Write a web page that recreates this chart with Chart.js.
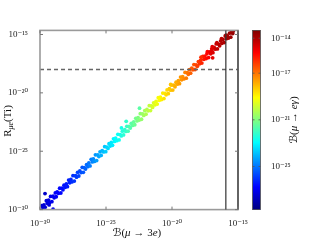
<!DOCTYPE html>
<html><head><meta charset="utf-8">
<script src="https://cdn.jsdelivr.net/npm/chart.js@4/dist/chart.umd.min.js"></script>
<style>html,body{margin:0;padding:0;background:#fff;overflow:hidden}#wrap{width:320px;height:240px;background:#fff}</style>
</head><body><div id="wrap"><canvas id="c" width="320" height="240"></canvas></div>
<script>
// ---- data (log10 exponents) ----
const b3eExp = [
-29.86,-29.70,-29.52,-29.35,-29.20,-29.01,-28.84,-28.70,-28.51,-28.33,-28.18,-28.00,-27.83,-27.66,-27.50,-27.31,-27.15,-26.98,-26.80,-26.64,
-26.47,-26.30,-26.12,-25.96,-25.80,-25.62,-25.45,-25.29,-25.10,-24.94,-24.77,-24.60,-24.43,-24.27,-24.10,-23.92,-23.76,-23.58,-23.42,-23.25,
-23.08,-22.90,-22.74,-22.57,-22.40,-22.23,-22.06,-21.90,-21.72,-21.55,-21.39,-21.21,-21.04,-20.88,-20.70,-20.53,-20.37,-20.20,-20.03,-19.86,
-19.69,-19.52,-19.35,-19.19,-19.01,-18.84,-18.68,-18.50,-18.34,-18.17,-18.00,-17.83,-17.66,-17.50,-17.32,-17.15,-16.99,-16.81,-16.65,-16.48,
-16.31,-16.14,-15.97,-15.80,-15.64,-15.47,-15.35,
-29.78,-29.61,-29.44,-29.27,-29.10,-28.93,-28.77,-28.60,-28.42,-28.26,-28.09,-27.92,-27.75,-27.58,-27.40,-27.23,-27.06,-26.89,-26.72,-26.55,
-26.38,-26.21,-26.04,-25.88,-25.71,-25.54,-25.37,-25.19,-25.02,-24.85,-24.68,-24.51,-24.35,-24.18,-24.01,-23.84,-23.67,-23.50,-23.33,-23.16,
-22.99,-22.82,-22.65,-22.48,-22.31,-22.14,-21.97,-21.81,-21.63,-21.47,-21.30,-21.12,-20.96,-20.79,-20.61,-20.45,-20.28,-20.11,-19.94,-19.77,
-19.60,-19.43,-19.27,-19.10,-18.92,-18.76,-18.59,-18.42,-18.25,-18.08,-17.91,-17.74,-17.58,-17.41,-17.23,-17.07,-16.90,-16.73,-16.56,-16.39,
-16.22,-16.05,-15.88,-15.72,-15.55,-15.40,
-29.62,-29.31,-29.01,-22.46,-23.83,-23.47,-16.98,-16.92,-20.10,-17.80,-17.35,-16.95,-16.60,-16.25,-15.90
];
const rTiExp = [
-29.67,-29.59,-29.24,-29.18,-28.87,-28.85,-28.57,-28.49,-28.17,-28.16,-27.91,-27.79,-27.47,-27.42,-27.09,-27.09,-26.81,-26.69,-26.38,-26.41,
-26.14,-26.01,-25.69,-25.65,-25.31,-25.32,-25.05,-24.94,-24.61,-24.64,-24.36,-24.25,-23.94,-23.89,-23.55,-23.57,-23.28,-23.15,-22.87,-22.88,
-22.61,-22.48,-22.18,-22.12,-21.78,-21.80,-21.52,-21.42,-21.10,-21.11,-20.85,-20.73,-20.41,-20.37,-20.02,-20.04,-19.75,-19.64,-19.34,-19.35,
-19.09,-18.96,-18.65,-18.61,-18.25,-18.27,-18.01,-17.88,-17.58,-17.60,-17.32,-17.21,-16.87,-16.85,-16.47,-16.50,-16.23,-16.10,-15.81,-15.82,
-15.54,-15.43,-15.13,-15.13,-14.89,-14.77,-14.71,
-29.85,-29.79,-29.46,-29.39,-29.32,-28.99,-28.90,-28.60,-28.58,-28.31,-28.09,-28.04,-27.70,-27.63,-27.56,-27.22,-27.12,-26.83,-26.81,-26.53,
-26.32,-26.26,-25.92,-25.87,-25.80,-25.46,-25.36,-25.06,-25.04,-24.76,-24.55,-24.49,-24.16,-24.10,-24.03,-23.69,-23.60,-23.30,-23.28,-23.01,
-22.79,-22.73,-22.40,-22.33,-22.26,-21.93,-21.83,-21.54,-21.52,-21.25,-21.03,-20.96,-20.64,-20.57,-20.49,-20.17,-20.07,-19.77,-19.76,-19.48,
-19.26,-19.21,-18.88,-18.81,-18.74,-18.41,-18.31,-18.02,-18.00,-17.72,-17.51,-17.45,-17.12,-17.06,-16.98,-16.65,-16.56,-16.26,-16.24,-15.97,
-15.75,-15.69,-15.36,-15.30,-15.23,-14.92,
-28.63,-29.60,-29.97,-21.31,-23.00,-22.44,-16.40,-17.00,-19.28,-16.95,-16.65,-16.05,-15.70,-15.35,-15.05
];
const begExp = [
-27.5,-27.4,-27.3,-27.2,-27.1,-27.0,-26.9,-26.8,-26.7,-26.6,-26.5,-26.4,-26.3,-26.2,-26.1,-25.9,-25.8,-25.7,-25.5,-25.4,
-25.2,-25.0,-24.9,-24.7,-24.5,-24.3,-24.2,-24.0,-23.8,-23.6,-23.5,-23.3,-23.1,-22.9,-22.8,-22.6,-22.4,-22.2,-22.1,-21.8,
-21.6,-21.4,-21.2,-21.0,-20.8,-20.6,-20.4,-20.2,-20.0,-19.8,-19.6,-19.4,-19.2,-19.0,-18.8,-18.7,-18.5,-18.3,-18.2,-18.0,
-17.9,-17.7,-17.5,-17.4,-17.2,-17.0,-16.8,-16.6,-16.5,-16.3,-16.1,-15.9,-15.7,-15.5,-15.3,-15.0,-14.8,-14.6,-14.4,-14.2,
-14.1,-14.0,-14.0,-13.9,-13.8,-13.8,-13.7,
-27.5,-27.4,-27.3,-27.2,-27.1,-27.0,-26.9,-26.8,-26.7,-26.6,-26.5,-26.4,-26.3,-26.1,-26.0,-25.9,-25.8,-25.6,-25.5,-25.3,
-25.1,-24.9,-24.8,-24.6,-24.4,-24.3,-24.1,-23.9,-23.7,-23.5,-23.4,-23.2,-23.0,-22.9,-22.7,-22.5,-22.3,-22.2,-21.9,-21.7,
-21.5,-21.3,-21.1,-20.9,-20.7,-20.5,-20.3,-20.1,-19.9,-19.7,-19.5,-19.3,-19.1,-18.9,-18.7,-18.6,-18.4,-18.3,-18.1,-17.9,
-17.8,-17.6,-17.5,-17.3,-17.1,-16.9,-16.7,-16.5,-16.4,-16.2,-16.0,-15.8,-15.6,-15.4,-15.2,-14.9,-14.7,-14.5,-14.3,-14.2,
-14.1,-14.0,-13.9,-13.9,-13.8,-13.7,
-27.6,-27.3,-27.0,-21.6,-22.6,-22.2,-14.8,-14.9,-18.2,-15.9,-15.3,-14.8,-14.4,-14.2,-14.0
];
const xTickExps = [-30, -25, -20, -15];
const yTickExps = [-30, -25, -20, -15];
const cbTickExps = [-14, -17, -21, -25];
const xRangeExp = [-30, -15];
const yRangeExp = [-30, -14.65];
const cbRangeExp = [-28.7, -13.33];
const verticalLimits = [1.2e-16, 1e-15];
const horizontalLimits = [1e-18];

// ---- helpers ----
const SUP = {'-':'\u207B','0':'\u2070','1':'\u00B9','2':'\u00B2','3':'\u00B3','4':'\u2074','5':'\u2075','6':'\u2076','7':'\u2077','8':'\u2078','9':'\u2079'};
function powLabel(v){ const e = Math.round(Math.log10(v)); return '10' + String(e).split('').map(c=>SUP[c]).join(''); }
function clamp01(v){ return Math.max(0, Math.min(1, v)); }
function jet(t){
  t = clamp01(t);
  const r = clamp01(1.5 - Math.abs(4*t - 3));
  const g = clamp01(1.5 - Math.abs(4*t - 2));
  const b = clamp01(1.5 - Math.abs(4*t - 1));
  return 'rgb(' + Math.round(r*255) + ',' + Math.round(g*255) + ',' + Math.round(b*255) + ')';
}
function cbFraction(scale, v){ return (scale.bottom - scale.getPixelForValue(v)) / (scale.bottom - scale.top); }
function drawRuns(ctx, runs, x, y){
  let total = 0;
  runs.forEach(r => { ctx.font = r.font; r.w = ctx.measureText(r.t).width; total += r.w; });
  let cx = x - total/2;
  ctx.textBaseline = 'middle'; ctx.textAlign = 'left';
  runs.forEach(r => { ctx.font = r.font; ctx.fillText(r.t, cx, y + (r.dy||0)); cx += r.w; });
}
const SERIF = "'Liberation Serif','DejaVu Serif',serif";
const N = () => '11px ' + SERIF, I = () => 'italic 11px ' + SERIF, CAL = () => "11px 'DejaVu Sans',sans-serif";

const points = b3eExp.map((e,i) => ({x: Math.pow(10, e), y: Math.pow(10, rTiExp[i])}));
const begVals = begExp.map(e => Math.pow(10, e));

const decor = {
  id: 'decor',
  afterDraw(chart){
    const {ctx, chartArea:a, scales} = chart;
    ctx.save();
    ctx.strokeStyle = '#9a9a9a'; ctx.lineWidth = 1.6;
    ctx.strokeRect(a.left, a.top, a.right - a.left, a.bottom - a.top);
    ctx.strokeStyle = '#333'; ctx.lineWidth = 1.2;
    verticalLimits.forEach(v => { const px = scales.x.getPixelForValue(v);
      ctx.beginPath(); ctx.moveTo(px, a.top); ctx.lineTo(px, a.bottom); ctx.stroke(); });
    ctx.strokeStyle = '#777'; ctx.lineWidth = 1;
    scales.x.ticks.forEach(t => { const px = scales.x.getPixelForValue(t.value);
      ctx.beginPath(); ctx.moveTo(px, a.bottom); ctx.lineTo(px, a.bottom - 3); ctx.moveTo(px, a.top); ctx.lineTo(px, a.top + 3); ctx.stroke(); });
    scales.y.ticks.forEach(t => { const py = scales.y.getPixelForValue(t.value);
      ctx.beginPath(); ctx.moveTo(a.left, py); ctx.lineTo(a.left + 3, py); ctx.moveTo(a.right, py); ctx.lineTo(a.right - 3, py); ctx.stroke(); });
    const cb = scales.cb; const x0 = 252.5, w = 8;
    for (let py = Math.floor(cb.top); py < cb.bottom; py++) {
      const v = cb.getValueForPixel(py + 0.5);
      ctx.fillStyle = jet(cbFraction(cb, v));
      ctx.fillRect(x0, py, w, 1);
    }
    ctx.strokeStyle = '#555'; ctx.lineWidth = 0.8;
    ctx.strokeRect(x0, cb.top, w, cb.bottom - cb.top);
    cb.ticks.forEach(t => { const py = cb.getPixelForValue(t.value);
      ctx.beginPath(); ctx.moveTo(x0, py); ctx.lineTo(x0 + 2, py); ctx.moveTo(x0 + w, py); ctx.lineTo(x0 + w - 2, py); ctx.stroke(); });
    ctx.fillStyle = '#111';
    drawRuns(ctx, [{t:'\u212C', font:CAL()}, {t:'(', font:N()}, {t:'\u03BC', font:I()}, {t:' \u2192 3', font:N()}, {t:'e', font:I()}, {t:')', font:N()}], 137, 233);
    ctx.save(); ctx.translate(8, 121); ctx.rotate(-Math.PI/2);
    drawRuns(ctx, [{t:'R', font:N()}, {t:'\u03BCe', font:'italic 8px ' + SERIF, dy:3}, {t:'(Ti)', font:N()}], 0, 0);
    ctx.restore();
    ctx.save(); ctx.translate(294, 120); ctx.rotate(-Math.PI/2);
    drawRuns(ctx, [{t:'\u212C', font:CAL()}, {t:'(', font:N()}, {t:'\u03BC', font:I()}, {t:' \u2192 ', font:N()}, {t:'e\u03B3', font:I()}, {t:')', font:N()}], 0, 0);
    ctx.restore();
    ctx.restore();
  }
};

const tickFont = {family: "'Liberation Serif','DejaVu Serif',serif", size: 9};
new Chart(document.getElementById('c'), {
  type: 'scatter',
  data: { datasets: [
    { data: horizontalLimits.flatMap(v => [{x: Math.pow(10, xRangeExp[0]), y: v}, {x: Math.pow(10, xRangeExp[1]), y: v}]),
      showLine: true, borderColor: '#666', borderWidth: 1.5, borderDash: [4, 3], pointRadius: 0, order: 0 },
    { data: points, pointRadius: 1.9, borderWidth: 0, pointHoverRadius: 1.9, order: 1,
      backgroundColor: (c) => { const cb = c.chart.scales.cb; if (!cb || c.dataIndex === undefined) return '#00f'; return jet(cbFraction(cb, begVals[c.dataIndex])); } }
  ]},
  options: {
    responsive: false, animation: false, devicePixelRatio: 1,
    layout: { padding: { top: 24, right: 0, left: 0, bottom: 0 } },
    plugins: { legend: {display: false}, tooltip: {enabled: false} },
    events: [],
    scales: {
      x: { type: 'logarithmic', min: Math.pow(10, xRangeExp[0]), max: Math.pow(10, xRangeExp[1]),
        grid: {display: false}, border: {display: false},
        afterBuildTicks: s => { s.ticks = xTickExps.map(e => ({value: Math.pow(10, e)})); },
        afterFit: s => { s.height = 25; },
        ticks: { callback: v => powLabel(v), font: tickFont, color: '#222', padding: 1, maxRotation: 0, autoSkip: false } },
      y: { type: 'logarithmic', min: Math.pow(10, yRangeExp[0]), max: Math.pow(10, yRangeExp[1]),
        grid: {display: false}, border: {display: false},
        afterBuildTicks: s => { s.ticks = yTickExps.map(e => ({value: Math.pow(10, e)})); },
        afterFit: s => { s.width = 40; },
        ticks: { callback: v => powLabel(v), font: tickFont, color: '#222', padding: 4, autoSkip: false } },
      cb: { type: 'logarithmic', position: 'right', min: Math.pow(10, cbRangeExp[0]), max: Math.pow(10, cbRangeExp[1]),
        grid: {display: false}, border: {display: false},
        afterBuildTicks: s => { s.ticks = cbTickExps.map(e => ({value: Math.pow(10, e)})); },
        afterFit: s => { s.width = 82; },
        ticks: { callback: v => powLabel(v), font: tickFont, color: '#222', padding: 25, autoSkip: false } }
    }
  },
  plugins: [decor]
});
</script>
</body></html>
